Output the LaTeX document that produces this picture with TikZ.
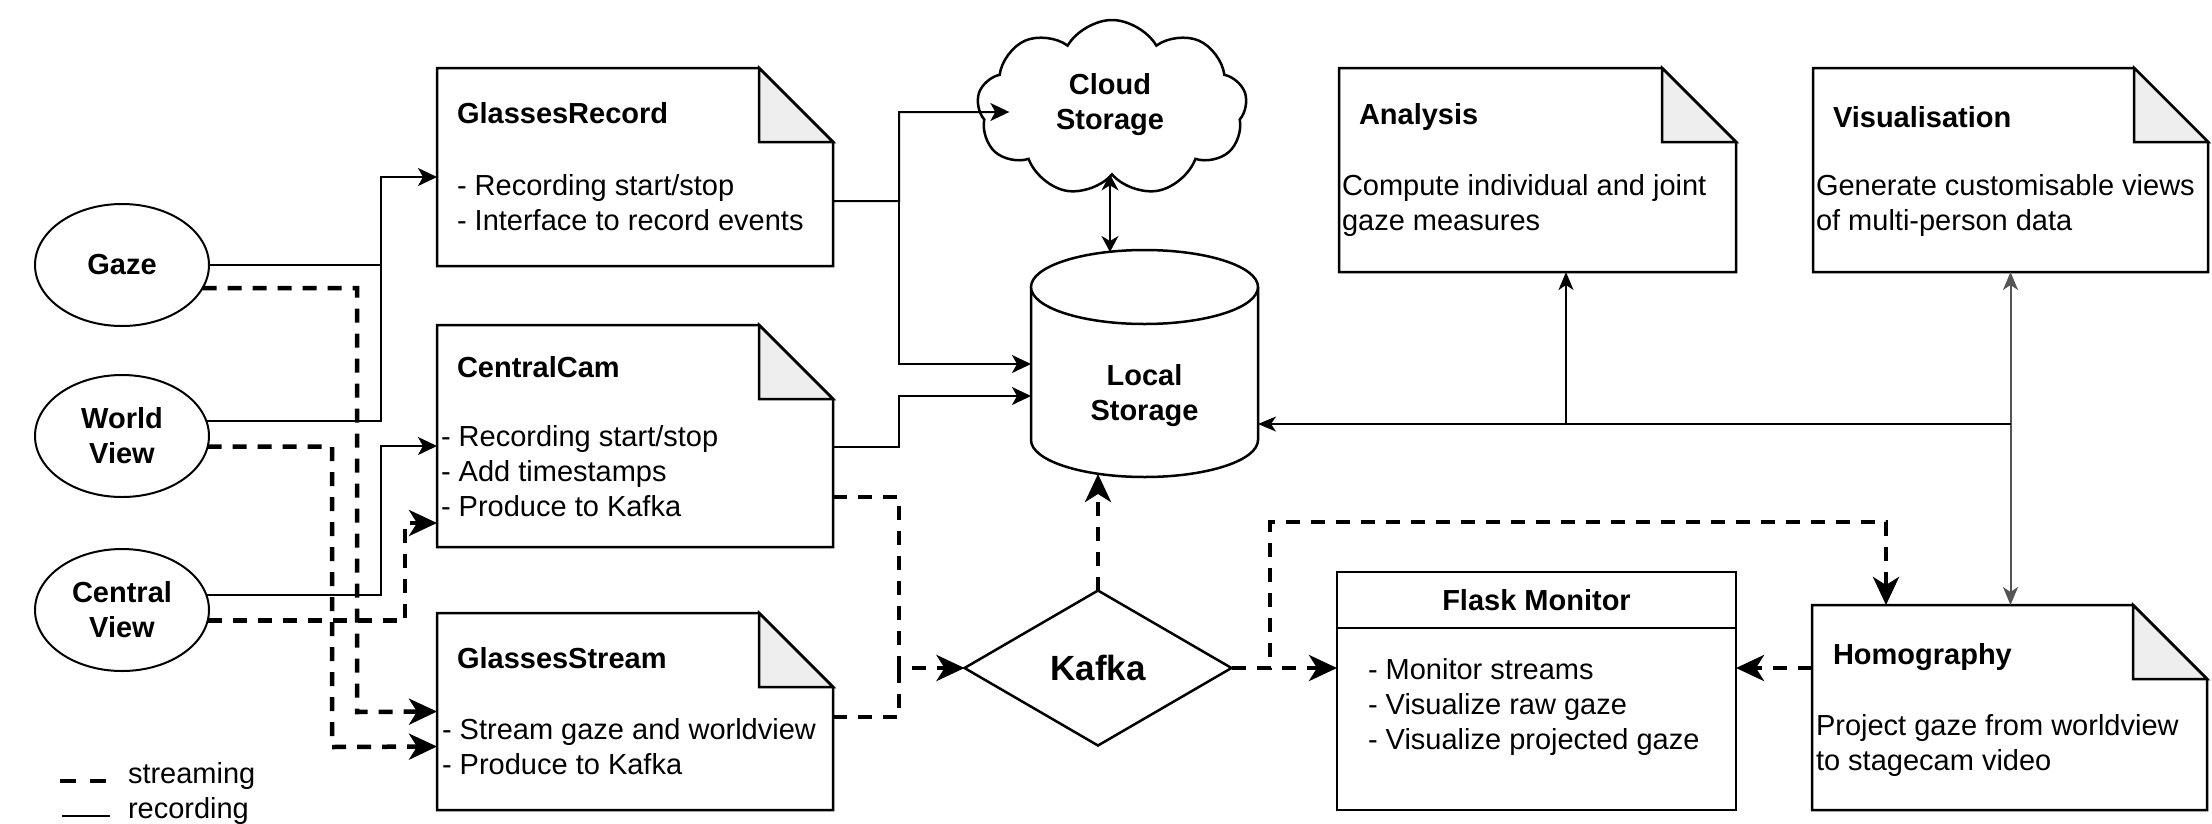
\documentclass[tikz,border=0pt]{standalone}
\usepackage{fontspec}
\setmainfont{Liberation Sans}
\usetikzlibrary{arrows.meta,shapes.geometric,shapes.symbols,calc}
\definecolor{foldgray}{HTML}{EEEEEE}
\definecolor{hubgray}{HTML}{555555}
\tikzset{
  txt/.style={font=\fontsize{29}{35}\selectfont, inner sep=0pt, outer sep=0pt},
  ttl/.style={font=\fontsize{29}{35}\selectfont\bfseries, inner sep=0pt, outer sep=0pt},
  body/.style={txt, align=left, anchor=west},
  src/.style={ellipse, draw, line width=2pt, minimum width=174pt, minimum height=122pt, inner sep=0pt, outer sep=0pt,
    font=\fontsize{29}{35}\selectfont\bfseries, align=center},
  notebox/.style={rectangle, inner sep=0pt, outer sep=0pt},
  border/.style={line width=2.5pt},
  recline/.style={line width=2pt},
  rec/.style={line width=2pt, -{Stealth[length=19pt,width=18pt,inset=5pt]}},
  strmline/.style={line width=4.5pt, dash pattern=on 14pt off 11pt},
  strm/.style={strmline, -{Stealth[length=28pt,width=26pt,inset=8pt]}},
  hubarrow/.style={line width=2pt, -{Stealth[length=18pt,width=15pt,inset=5pt]}},
  dbl/.style={line width=2pt, {Stealth[length=16pt,width=17pt,inset=5pt]}-{Stealth[length=16pt,width=17pt,inset=5pt]}},
}
\begin{document}
\begin{tikzpicture}[x=1pt,y=-1pt]
\useasboundingbox (0,0) rectangle (2212,823);

% ---- source ellipses
\node[src] (gaze) at (122,265) {Gaze};
\node[src] (wv) at (122,436) {World\\View};
\node[src] (cv) at (122,610) {Central\\View};

% ---- note boxes
\node[notebox, minimum width=396pt, minimum height=198pt] (gr) at (635,167) {};
\node[notebox, minimum width=396pt, minimum height=222pt] (cc) at (635,436) {};
\node[notebox, minimum width=396pt, minimum height=197pt] (gs) at (635,711.5) {};
\node[notebox, minimum width=397pt, minimum height=204pt] (an) at (1537.5,170) {};
\node[notebox, minimum width=395pt, minimum height=204pt] (vi) at (2010.5,170) {};
\node[notebox, minimum width=395pt, minimum height=205pt] (ho) at (2009.5,707.5) {};
\foreach \n in {gr,cc,gs,an,vi,ho}{
  \draw[border, fill=white] (\n.north west) -- ([xshift=-74pt]\n.north east) -- ([yshift=-74pt]\n.north east)
     -- (\n.south east) -- (\n.south west) -- cycle;
  \draw[border, fill=foldgray] ([xshift=-74pt]\n.north east) -- ([yshift=-74pt]\n.north east)
     -- ([xshift=-74pt,yshift=-74pt]\n.north east) -- cycle;
}

% ---- Flask monitor
\node[notebox, draw, border, minimum width=399pt, minimum height=238pt] (fm) at (1536.5,691) {};
\draw[border] ([yshift=-56pt]fm.north west) -- ([yshift=-56pt]fm.north east);

% ---- cloud
\node[cloud, draw, border, fill=white, cloud puffs=9, cloud puff arc=120, cloud ignores aspect,
  minimum width=270pt, minimum height=176pt, inner sep=0pt, outer sep=0pt] (cloud) at (1112,108) {};
\node[ttl, align=center] (cloud-t) at (1110,105) {Cloud\\Storage};

% ---- local storage cylinder
\node[notebox, minimum width=227pt, minimum height=227pt] (ls) at (1144.5,363.5) {};
\draw[border, fill=white] (1031,287) -- (1031,440) arc[start angle=180, end angle=360, x radius=113.5pt, y radius=37pt] -- (1258,287);
\draw[border, fill=white] (1144.5,287) ellipse [x radius=113.5pt, y radius=37pt];
\node[ttl, align=center] (ls-t) at (1144.5,396) {Local\\Storage};

% ---- Kafka
\node[diamond, draw, border, minimum width=267pt, minimum height=155pt, inner sep=0pt, outer sep=0pt,
  font=\fontsize{35}{42}\selectfont\bfseries] (kafka) at (1098,668) {Kafka};

% ---- texts
\node[ttl, anchor=west] (gr-t) at (457,113) {GlassesRecord};
\node[body] (gr-b) at (457,202.5) {- Recording start/stop\\- Interface to record events};
\node[ttl, anchor=west] (cc-t) at (457,367) {CentralCam};
\node[body] (cc-b) at (441,471) {- Recording start/stop\\- Add timestamps\\- Produce to Kafka};
\node[ttl, anchor=west] (gs-t) at (457,658) {GlassesStream};
\node[body] (gs-b) at (442,746.5) {- Stream gaze and worldview\\- Produce to Kafka};
\node[ttl, anchor=west] (an-t) at (1359,117) {Analysis};
\node[body] (an-b) at (1342,205.5) {Compute individual and joint\\gaze measures};
\node[ttl, anchor=west] (vi-t) at (1833,117) {Visualisation};
\node[body] (vi-b) at (1816,205.5) {Generate customisable views\\of multi-person data};
\node[ttl, anchor=west] (ho-t) at (1833,657) {Homography};
\node[body] (ho-b) at (1816,745) {Project gaze from worldview\\to stagecam video};
\node[ttl] (fm-t) at (1536.5,600) {Flask Monitor};
\node[body] (fm-b) at (1368,706.5) {- Monitor streams\\- Visualize raw gaze\\- Visualize projected gaze};

% ---- recording connectors
\draw[rec] (gaze.east) -| (381,177) -- ([yshift=-10pt]gr.west);
\draw[recline] (wv.10) -| (381,265);
\draw[rec] (cv.10) -| (381,446) -- ([yshift=-10pt]cc.west);
\draw[rec] ([yshift=-34pt]gr.east) -| (899,112) -- ([shift={(31pt,-4pt)}]cloud.west);
\draw[rec] ([yshift=-34pt]gr.east) -| (899,364) -- ([yshift=-0.5pt]ls.west);
\draw[rec] ([yshift=-11pt]cc.east) -| (899,396) -- ([yshift=-32.5pt]ls.west);
\draw[dbl] ([xshift=-2pt]cloud.south) -- ([xshift=-2pt,yshift=-2pt]cloud.south |- ls.north);

% ---- streaming connectors
\draw[strm] (gaze.-16) -| (357,712) -- (gs.west);
\draw[strm] (wv.-7) -| (332,747) -- ([yshift=-35pt]gs.west);
\draw[strm] (cv.-7) -| (405,523) -- ([yshift=-87pt]cc.west);
\draw[strm] ([yshift=-61pt]cc.east) -| (899,668) -- (kafka.west);
\draw[strmline] ([yshift=-5.5pt]gs.east) -| (899,668);
\draw[strm] (kafka.north) -- ([yshift=3pt]kafka.north |- ls.south);
\draw[strm] (kafka.east) -- ([yshift=23pt]fm.west);
\draw[strm] (kafka.east) -| (1270,522) -| ([xshift=-123.5pt]ho.north);
\draw[strm] ([yshift=39.5pt]ho.west) -- ([yshift=23pt]fm.east);

% ---- hub connectors
\coordinate (hub) at ($(vi.south)+(0,152)$);
\draw[hubarrow, hubgray] (hub) -- (vi.south);
\draw[hubarrow, hubgray] (hub) -- (hub |- ho.north);
\draw[hubarrow] (hub) -- ([yshift=-60.5pt]ls.east);
\coordinate (anj) at ([xshift=28.5pt]an.south |- hub);
\draw[hubarrow] (anj) -- ([xshift=28.5pt]an.south);

% ---- legend
\draw[line width=4.5pt, dash pattern=on 16pt off 14pt] (60,781) -- (107,781);
\node[txt, anchor=west] (lg1) at (128,776) {streaming};
\draw[line width=2pt] (62,816) -- (110,816);
\node[txt, anchor=west] (lg2) at (128,811) {recording};
\end{tikzpicture}
\end{document}
